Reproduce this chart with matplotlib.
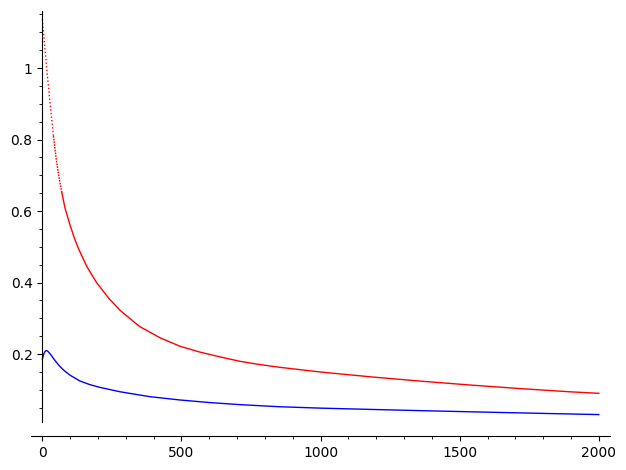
import matplotlib
matplotlib.use('Agg')
import matplotlib.pyplot as plt
from matplotlib.ticker import MultipleLocator, FuncFormatter

# upper (red) curve
red_x = [0, 10, 20, 30, 40, 50, 60, 70, 82, 100, 115, 130, 160, 195, 240, 280,
         350, 425, 495, 565, 640, 710, 780, 855, 1000, 1180, 1360, 1540, 1720,
         1900, 2000]
red_y = [1.136, 1.05, 0.965, 0.885, 0.81, 0.745, 0.695, 0.652, 0.607, 0.560,
         0.525, 0.495, 0.445, 0.400, 0.355, 0.322, 0.277, 0.245, 0.222, 0.206,
         0.192, 0.180, 0.171, 0.163, 0.150, 0.1365, 0.1245, 0.1135, 0.1035,
         0.0945, 0.0905]

# lower (blue) curve
blue_x = [0, 5, 10, 15, 20, 30, 40, 52, 64, 80, 100, 135, 170, 207, 280, 387,
          495, 603, 710, 850, 1000, 1177, 1360, 1537, 1770, 2000]
blue_y = [0.185, 0.200, 0.208, 0.210, 0.208, 0.199, 0.188, 0.176, 0.165, 0.153,
          0.141, 0.125, 0.115, 0.107, 0.0947, 0.0810, 0.0718, 0.0645, 0.0588,
          0.0530, 0.0490, 0.0455, 0.0420, 0.0388, 0.0348, 0.0310]

fig = plt.figure(figsize=(6.26, 4.70), dpi=100)
ax = fig.add_axes([0.0498, 0.1011, 0.9246, 0.8745])

# steep start of the red curve shows up as loose dots in the original
n_dots = 5
n_fine = 8
ax.plot(red_x[:n_dots], red_y[:n_dots], color=(1, 0, 0), lw=1.0,
        linestyle=(0, (1.0, 1.6)))
ax.plot(red_x[n_dots - 1:n_fine], red_y[n_dots - 1:n_fine], color=(1, 0, 0),
        lw=1.0, linestyle=(0, (1.2, 0.8)))
ax.plot(red_x[n_fine - 1:], red_y[n_fine - 1:], color=(1, 0, 0), lw=1.0)
ax.plot(blue_x, blue_y, color=(0, 0, 1), lw=1.0)

# sage-like padding: 2% of the data range on each end
xmin, xmax = min(red_x + blue_x), max(red_x + blue_x)
ymin, ymax = min(red_y + blue_y), max(red_y + blue_y)
xpad = 0.02 * (xmax - xmin)
ypad = 0.02 * (ymax - ymin)
ax.set_xlim(xmin - xpad, xmax + xpad)
ax.set_ylim(ymin - ypad, ymax + ypad)

# axes drawn like sage: y axis at x=0, x axis pushed below the data
ax.spines['top'].set_visible(False)
ax.spines['right'].set_visible(False)
ax.spines['left'].set_position(('data', 0))
ax.spines['bottom'].set_position(('outward', 10))

ax.xaxis.set_major_locator(MultipleLocator(500))
ax.xaxis.set_minor_locator(MultipleLocator(100))
ax.yaxis.set_major_locator(MultipleLocator(0.2))
ax.yaxis.set_minor_locator(MultipleLocator(0.05))
ax.yaxis.set_major_formatter(FuncFormatter(lambda v, p: '%g' % round(v, 6)))
ax.xaxis.set_major_formatter(FuncFormatter(lambda v, p: '%g' % round(v, 6)))
ax.tick_params(labelsize=10)

fig.savefig('out.png', dpi=100)
